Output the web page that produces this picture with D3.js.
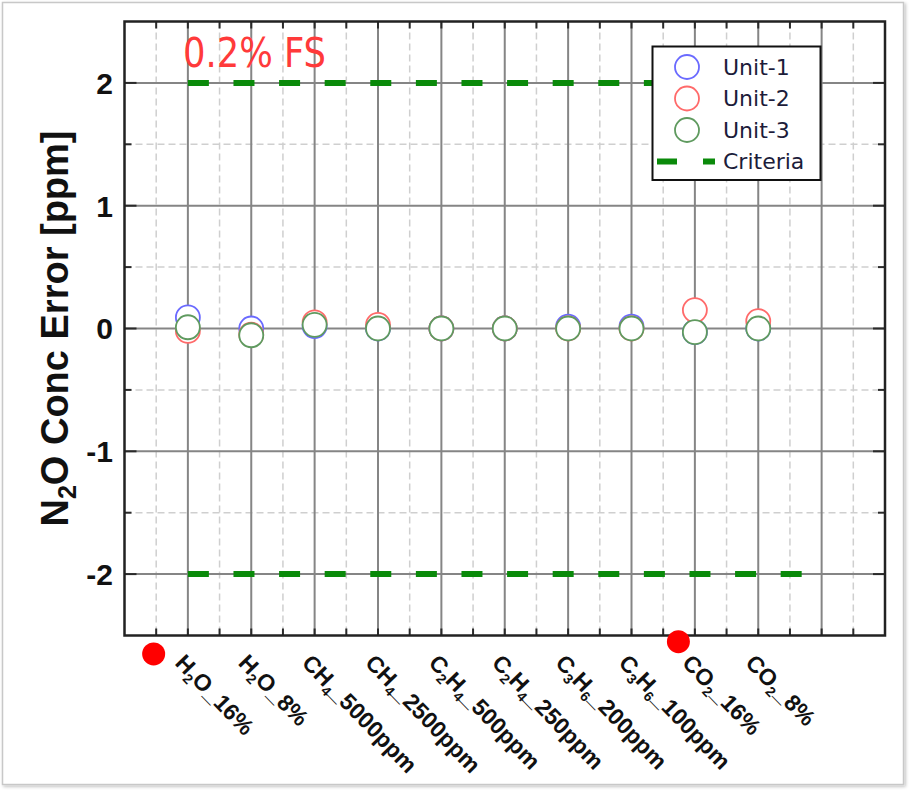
<!DOCTYPE html>
<html lang="en">
<head>
<meta charset="utf-8" />
<script src="https://cdn.jsdelivr.net/npm/d3@7/dist/d3.min.js"></script>
<style>
body { margin: 0; background: #fff; }
svg { display: block; font-family: "Liberation Sans", Arial, sans-serif; }
</style>
</head>
<body>
<svg id="chart" width="909" height="790"></svg>
<script>
// categories along the x axis (chemical part: digits become subscripts)
var categories = ["H2O_16%", "H2O_8%", "CH4_5000ppm", "CH4_2500ppm", "C2H4_500ppm",
                  "C2H4_250ppm", "C3H6_200ppm", "C3H6_100ppm", "CO2_16%", "CO2_8%"];

// N2O concentration error [ppm] per unit
var unit1 = [0.09, 0.00, 0.02, 0.00, 0.00, 0.00, 0.015, 0.015, -0.03, 0.00];
var unit2 = [-0.02, -0.05, 0.05, 0.03, 0.00, 0.00, 0.00, 0.00, 0.15, 0.06];
var unit3 = [0.01, -0.055, 0.03, 0.00, 0.00, 0.00, 0.00, 0.00, -0.03, 0.00];

var seriesNames = ["Unit-1", "Unit-2", "Unit-3"];
var seriesColors = ["#6a6aff", "#ff6a6a", "#5f9a5f"];

// criteria band (+/-0.2% FS)
var criteriaValues = [2, -2];
var criteriaRange = [0, 10];

var yTicks = [2, 1, 0, -1, -2];

// red dots marked below the axis (x in category units, y in ppm)
var redDots = [{x: -0.54, y: -2.65}, {x: 7.74, y: -2.55}];

var svg = d3.select("#chart");

var defs = svg.append("defs");
var shadow = defs.append("filter").attr("id", "shadow")
    .attr("x", "-5%").attr("y", "-5%").attr("width", "110%").attr("height", "110%");
shadow.append("feDropShadow").attr("dx", 1.5).attr("dy", 1.5)
    .attr("stdDeviation", 1.5).attr("flood-color", "#000").attr("flood-opacity", 0.25);

// outer picture frame
svg.append("rect")
    .attr("x", 2.5).attr("y", 2.5).attr("width", 901).attr("height", 782)
    .attr("fill", "#fff").attr("stroke", "#c8c8c8").attr("stroke-width", 1.5)
    .attr("filter", "url(#shadow)");

var pL = 124.5, pR = 885, pT = 21.5, pB = 635.5;

var x = d3.scaleLinear().domain([-1, 11]).range([pL, pR]);
var y = d3.scaleLinear().domain([-2.5, 2.5]).range([pB, pT]);

var g = svg.append("g");

// grid
var xMajor = d3.range(0, 11), xMinor = d3.range(-0.5, 11, 1);
var yMajor = d3.range(-2, 3), yMinor = [-1.5, -0.5, 0.5, 1.5];

g.selectAll("line.xminor").data(xMinor).enter().append("line")
    .attr("x1", d => x(d)).attr("x2", d => x(d)).attr("y1", pT).attr("y2", pB)
    .attr("stroke", "#cfcfcf").attr("stroke-width", 1.5).attr("stroke-dasharray", "7,4");
g.selectAll("line.yminor").data(yMinor).enter().append("line")
    .attr("y1", d => y(d)).attr("y2", d => y(d)).attr("x1", pL).attr("x2", pR)
    .attr("stroke", "#cfcfcf").attr("stroke-width", 1.5).attr("stroke-dasharray", "7,4");
g.selectAll("line.xmajor").data(xMajor).enter().append("line")
    .attr("x1", d => x(d)).attr("x2", d => x(d)).attr("y1", pT).attr("y2", pB)
    .attr("stroke", "#858585").attr("stroke-width", 2);
g.selectAll("line.ymajor").data(yMajor).enter().append("line")
    .attr("y1", d => y(d)).attr("y2", d => y(d)).attr("x1", pL).attr("x2", pR)
    .attr("stroke", "#858585").attr("stroke-width", 2);

// criteria lines
g.selectAll("line.crit").data(criteriaValues).enter().append("line")
    .attr("x1", x(criteriaRange[0])).attr("x2", x(criteriaRange[1]))
    .attr("y1", d => y(d)).attr("y2", d => y(d))
    .attr("stroke", "#0a8a0a").attr("stroke-width", 6).attr("stroke-dasharray", "21,24.6");

// markers
[unit1, unit2, unit3].forEach(function(vals, k) {
  g.selectAll("circle.u" + k).data(vals).enter().append("circle")
      .attr("cx", (d, i) => x(i)).attr("cy", d => y(d)).attr("r", 12)
      .attr("fill", "#fff").attr("stroke", seriesColors[k]).attr("stroke-width", 1.8);
});

// inward ticks on all four sides
var tickCol = "#2a2a2a";
function ticks(vals, len, horiz) {
  vals.forEach(function(v) {
    if (horiz) {
      var px = x(v);
      g.append("line").attr("x1", px).attr("x2", px).attr("y1", pT).attr("y2", pT + len)
          .attr("stroke", tickCol).attr("stroke-width", 2);
      g.append("line").attr("x1", px).attr("x2", px).attr("y1", pB).attr("y2", pB - len)
          .attr("stroke", tickCol).attr("stroke-width", 2);
    } else {
      var py = y(v);
      g.append("line").attr("y1", py).attr("y2", py).attr("x1", pL).attr("x2", pL + len)
          .attr("stroke", tickCol).attr("stroke-width", 2);
      g.append("line").attr("y1", py).attr("y2", py).attr("x1", pR).attr("x2", pR - len)
          .attr("stroke", tickCol).attr("stroke-width", 2);
    }
  });
}
ticks(xMajor, 7, true); ticks(xMinor, 7, true);
ticks(yMajor, 12, false); ticks(yMinor, 7, false);

// plot frame
g.append("rect").attr("x", pL).attr("y", pT).attr("width", pR - pL).attr("height", pB - pT)
    .attr("fill", "none").attr("stroke", "#222").attr("stroke-width", 2.5);

// y tick labels
g.selectAll("text.ytick").data(yTicks).enter().append("text")
    .attr("x", 113).attr("y", d => y(d)).attr("dy", "0.36em")
    .attr("text-anchor", "end").attr("font-size", 30).attr("font-weight", "bold")
    .attr("fill", "#111").text(d => String(d));

// y title
var yt = svg.append("text")
    .attr("transform", "translate(68," + y(0) + ") rotate(-90)")
    .attr("text-anchor", "middle").attr("font-size", 38).attr("font-weight", "bold")
    .attr("fill", "#111");
yt.append("tspan").text("N");
yt.append("tspan").attr("font-size", 25).attr("dy", 8).text("2");
yt.append("tspan").attr("dy", -8).text("O Conc Error [ppm]");

// x tick labels (rotated, with subscripts)
function addLabel(sel, label) {
  var parts = label.split("_");
  var chem = parts[0].match(/[A-Za-z]+|\d+/g);
  var shift = 0;
  chem.forEach(function(p) {
    if (/\d/.test(p)) {
      sel.append("tspan").attr("font-size", 14).attr("dy", 5 - shift).text(p);
      shift = 5;
    } else {
      sel.append("tspan").attr("dy", -shift).text(p);
      shift = 0;
    }
  });
  sel.append("tspan").attr("dy", -shift).text("_" + parts.slice(1).join("_"));
}
categories.forEach(function(c, i) {
  var t = svg.append("text")
      .attr("transform", "translate(" + (x(i) - 14) + ",664) rotate(46)")
      .attr("font-size", 23).attr("font-weight", "bold").attr("fill", "#111");
  addLabel(t, c);
});

// red dots
svg.selectAll("circle.dot").data(redDots).enter().append("circle")
    .attr("cx", d => x(d.x)).attr("cy", d => y(d.y)).attr("r", 11.5).attr("fill", "#ff0000");

// 0.2% FS note
svg.append("text").attr("x", 183).attr("y", 67)
    .attr("font-family", "'Liberation Sans Narrow', 'DejaVu Sans Condensed', sans-serif")
    .attr("font-size", 40).attr("fill", "#ff3a3a")
    .attr("textLength", 143).attr("lengthAdjust", "spacingAndGlyphs")
    .text("0.2% FS");

// legend
var lg = svg.append("g");
lg.append("rect").attr("x", 652.5).attr("y", 46.5).attr("width", 168).attr("height", 133.5)
    .attr("fill", "#fff").attr("stroke", "#111").attr("stroke-width", 2);
var rowY = [67, 98.5, 130, 161.5];
seriesNames.forEach(function(n, k) {
  lg.append("circle").attr("cx", 687).attr("cy", rowY[k]).attr("r", 12)
      .attr("fill", "#fff").attr("stroke", seriesColors[k]).attr("stroke-width", 1.8);
  lg.append("text").attr("x", 723).attr("y", rowY[k]).attr("dy", "0.36em")
      .attr("font-family", "'DejaVu Sans', sans-serif").attr("font-size", 22)
      .attr("fill", "#1c1c3a").text(n);
});
lg.append("line").attr("x1", 657).attr("x2", 715).attr("y1", rowY[3]).attr("y2", rowY[3])
    .attr("stroke", "#0a8a0a").attr("stroke-width", 6).attr("stroke-dasharray", "20,26");
lg.append("text").attr("x", 723).attr("y", rowY[3]).attr("dy", "0.36em")
    .attr("font-family", "'DejaVu Sans', sans-serif").attr("font-size", 22)
    .attr("fill", "#1c1c3a").text("Criteria");
</script>
</body>
</html>
